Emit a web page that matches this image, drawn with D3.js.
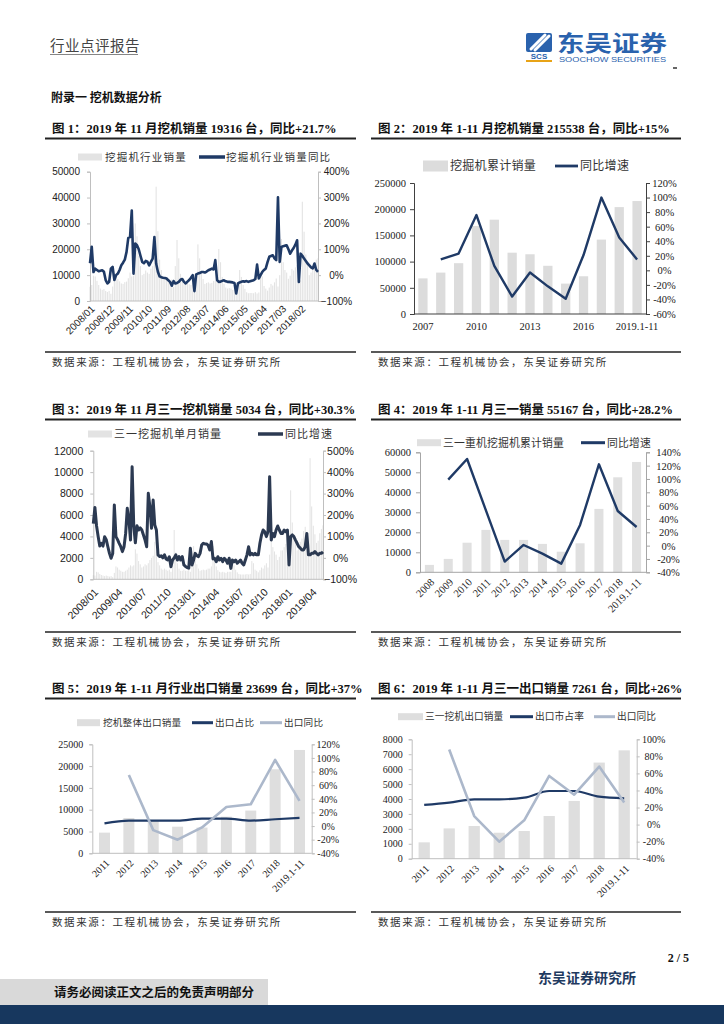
<!DOCTYPE html>
<html>
<head>
<meta charset="utf-8">
<script src="https://cdn.jsdelivr.net/npm/d3@7"></script>
<style>
body { margin: 0; background: #fff; }
svg { display: block; }
</style>
</head>
<body>
<svg id="page" width="724" height="1024"></svg>
<script>
// fonts
const SERIF = '"Liberation Serif", "Times New Roman", "Noto Sans CJK SC", serif';
const SANS = '"Liberation Sans", Arial, "Noto Sans CJK SC", sans-serif';
const CJK = '"Noto Sans CJK SC", sans-serif';

const navy = "#1f3a66";
const slate = "#2c3a52";
const lightLine = "#acb8cb";
const barGrey = "#dcdcdc";

// ---- chart 1: industry monthly sales 2008/01 - 2018/12
const chart1Ticks = ["2008/01", "2008/12", "2009/11", "2010/10", "2011/09", "2012/08", "2013/07", "2014/06", "2015/05", "2016/04", "2017/03", "2018/02"];
const industrySales = [
    5500, 6200, 9800, 9500, 7800, 6200, 4800, 4300, 4600, 3900, 3500, 3900,
    2800, 5600, 9500, 10000, 8500, 7600, 6800, 6600, 7300, 7500, 8800, 11000,
    9500, 9800, 30000, 25000, 17500, 13500, 10000, 10500, 11800, 11000, 10500, 12500,
    13500, 17000, 44200, 27000, 16000, 12000, 9000, 8500, 9200, 8200, 7600, 8300,
    5500, 13500, 23600, 16500, 10500, 8000, 6500, 6500, 7000, 6500, 6200, 7000,
    5300, 9500, 21900, 16500, 11000, 8500, 6600, 7000, 7200, 6800, 7000, 7800,
    7800, 9000, 20100, 15000, 9300, 6600, 5200, 4800, 5000, 4800, 4300, 4900,
    5600, 5200, 12000, 9300, 6200, 4700, 3400, 3000, 3100, 3100, 3000, 3400,
    2900, 3300, 10700, 9500, 5800, 4800, 4000, 5200, 6600, 6000, 7200, 8700,
    5600, 10000, 24000, 15000, 12000, 11000, 8600, 9800, 12400, 11800, 13000, 13900,
    10900, 8000, 38400, 26800, 18000, 14000, 10000, 11000, 13500, 14000, 16000, 16500
];
const industryYoy = [
    46, 110, 12, 25, 20, 15, 17, 19, 13, -19, -32, -26,
    25, 32, -19, 0, 6, 20, 38, 48, 60, 90, 144, 147,
    250, 6, 122, 116, 100, 75, 51, 46, 55, 52, 38, 51,
    64, 147, 45, 13, -5, -8, -10, -11, -13, -20, -26, -41,
    -23, -32, -30, -26, -18, -15, -26, -32, -25, -19, -10, 0,
    -62, 3, 6, 8, 12, 12, 10, 14, 19, 22, 25, 22,
    58, -19, -26, -25, -22, -20, -24, -26, -26, -27, -28, -30,
    -71, -32, -28, -26, -24, -25, -23, -26, -24, -22, -20, -15,
    41, -13, 0, 13, 20, 26, 50, 71, 74, 77, 65, 58,
    301, 51, 109, 112, 114, 115, 100, 83, 95, 105, 118, 135,
    -26, 83, 75, 64, 55, 45, 38, 30, 26, 45, 20, 13
];

// ---- chart 2: industry annual
const years2 = ["2007", "2008", "2009", "2010", "2011", "2012", "2013", "2014", "2015", "2016", "2017", "2018", "2019.1-11"];
const years2Ticks = ["2007", "2010", "2013", "2016", "2019.1-11"];
const annualSales = [68000, 79000, 97000, 168000, 180000, 117000, 114000, 92000, 58000, 72000, 142000, 204000, 215538];
const annualYoy = [null, 15, 23, 76, 6, -36, -3, -22, -39, 21, 100, 45, 15];

// ---- chart 3: Sany monthly sales 2008/01 - 2019/11
const chart3Ticks = ["2008/01", "2009/04", "2010/07", "2011/10", "2013/01", "2014/04", "2015/07", "2016/10", "2018/01", "2019/04"];
const sanySales = [
    400, 350, 700, 650, 500, 400, 350, 300, 350, 300, 250, 300,
    200, 600, 1200, 1100, 900, 800, 700, 700, 800, 900, 1100, 1300,
    1200, 1300, 2800, 2400, 1700, 1400, 1100, 1200, 1400, 1300, 1500, 1800,
    2000, 2200, 3500, 2600, 1600, 1300, 1000, 900, 1000, 900, 800, 900,
    700, 1800, 4600, 2500, 1500, 1000, 800, 800, 900, 800, 800, 900,
    700, 1400, 3100, 2200, 1400, 1000, 800, 850, 900, 850, 900, 1000,
    1000, 1200, 3100, 2000, 1200, 850, 700, 650, 700, 650, 600, 700,
    700, 700, 1600, 1300, 900, 650, 500, 450, 450, 450, 450, 500,
    450, 500, 1700, 1500, 900, 800, 650, 850, 1100, 1000, 1300, 1500,
    1100, 2300, 5500, 3000, 2600, 2300, 1800, 2100, 2700, 2700, 3000, 3300,
    2900, 2000, 8300, 5300, 4200, 3500, 2700, 2900, 3500, 3800, 4500, 4900,
    4200, 3400, 11300, 6800, 5000, 4200, 3400, 3600, 4300, 4700, 5034
];
const sanyYoy = [
    160, 235, 150, 100, 55, 68, 55, 99, 85, 52, 21, -2,
    20, 247, 99, 85, 68, 52, 29, 52, 114, 231, 177, 83,
    425, 150, 70, 150, 130, 140, 130, 107, 83, 52, 301, 239,
    138, 270, 153, 130, 14, 6, 10, 0, 14, -5, -10, 5,
    -41, -10, 0, 14, -10, 6, -10, 6, -33, -40, -45, -48,
    45, -33, -10, 21, 10, 6, 21, 60, 68, 65, 65, 58,
    37, 76, -5, -2, -18, 5, -10, -2, -18, -2, -10, -25,
    -2, -49, -10, -18, -10, -25, -18, -10, -25, -33, -10, 14,
    52, 14, 21, 14, 21, 14, 14, 68, 107, 130, 122, 99,
    122, 379, 83, 114, 99, 130, 149, 130, 114, 114, 130, 122,
    130, -33, 99, 107, 99, 83, 68, 52, 45, 37, 37, 52,
    114, 14, 14, 21, 21, 29, 21, 14, 21, 21, 28
];

// ---- chart 4: Sany annual
const years4 = ["2008", "2009", "2010", "2011", "2012", "2013", "2014", "2015", "2016", "2017", "2018", "2019.1-11"];
const sanyAnnual = [3700, 6700, 14800, 21200, 16200, 16200, 14200, 10300, 14500, 31700, 47500, 55167];
const sanyAnnualYoy = [null, 99, 130, 53, -24, 1, -12, -27, 31, 122, 52, 28];

// ---- chart 5 / 6: exports
const exportYears = ["2011", "2012", "2013", "2014", "2015", "2016", "2017", "2018", "2019.1-11"];
const exportSales = [4740, 8100, 7500, 6100, 5900, 8400, 9800, 19270, 23699];
const exportShare = [4, 8, 8, 8, 11, 11, 8, 10, 12];
const exportYoy = [null, 75, -6, -20, -2, 28, 32, 97, 37];
const sanyExport = [1095, 2030, 2190, 1740, 1855, 2860, 3870, 6440, 7261];
const sanyExportShare = [23, 25.7, 29.6, 29.6, 31.6, 39.4, 39.4, 32.7, 30.8];
const sanyExportYoy = [null, 88, 10, -20, 5, 57, 35, 68, 26];

const svg = d3.select("#page");

function monthLabels(startYear, count) {
    let out = [];
    for (let i = 0; i < count; i++) {
        let y = startYear + Math.floor(i / 12), m = i % 12 + 1;
        out.push(y + "/" + (m < 10 ? "0" + m : m));
    }
    return out;
}

function pct(minus) {
    return d => (d < 0 ? minus + Math.abs(d) : d) + "%";
}

// left value axis + right percent axis
function valueAxes(g, o, y, y2) {
    let left = g.append("g")
        .attr("transform", "translate(" + o.left + ",0)")
        .call(d3.axisLeft(y).tickValues(d3.range(0, o.leftMax + 1, o.leftStep))
            .tickSize(o.tick).tickPadding(o.padL).tickFormat(d => d));
    let right = g.append("g")
        .attr("transform", "translate(" + o.right + ",0)")
        .call(d3.axisRight(y2).tickValues(d3.range(o.rMin, o.rMax + 1, o.rStep))
            .tickSize(o.tick).tickFormat(pct(o.minus)));
    [left, right].forEach(a => {
        a.select(".domain").attr("stroke", o.axisColor);
        a.selectAll(".tick line").attr("stroke", o.axisColor);
        a.selectAll("text").attr("font-family", o.font).attr("font-size", o.fontSize).attr("fill", "#222");
    });
    right.selectAll("text").attr("text-anchor", "middle").attr("x", o.rLabelX);
    g.append("line")
        .attr("x1", o.left).attr("x2", o.right)
        .attr("y1", o.bottom).attr("y2", o.bottom)
        .attr("stroke", o.axisColor);
}

function rotatedLabel(g, x, y, text, font, size) {
    g.append("text")
        .attr("transform", "translate(" + x + "," + y + ") rotate(-45)")
        .attr("text-anchor", "end")
        .attr("dy", "0.35em")
        .attr("font-family", font)
        .attr("font-size", size)
        .attr("fill", "#222")
        .text(text);
}

function drawMonthly(o) {
    let g = svg.append("g");
    let x = d3.scalePoint().domain(o.months).range([o.left, o.right]);
    let y = d3.scaleLinear().domain([0, o.leftMax]).range([o.bottom, o.top]);
    let y2 = d3.scaleLinear().domain([o.rMin, o.rMax]).range([o.bottom, o.top]);
    let bw = x.step() * 0.62;

    g.selectAll("rect").data(o.bars).join("rect")
        .attr("x", (d, i) => x(o.months[i]) - bw / 2)
        .attr("y", d => y(d))
        .attr("width", bw)
        .attr("height", d => o.bottom - y(d))
        .attr("fill", o.barColor);

    valueAxes(g, o, y, y2);

    g.append("path")
        .datum(o.yoy)
        .attr("d", d3.line().x((d, i) => x(o.months[i])).y(d => y2(d)))
        .attr("fill", "none")
        .attr("stroke", o.lineColor)
        .attr("stroke-width", o.lineWidth)
        .attr("stroke-linejoin", "round");

    o.ticks.forEach(t => rotatedLabel(g, x(t) + 3, o.bottom + o.labelGap, t, SANS, o.fontSize));
}

function drawAnnual(o) {
    let g = svg.append("g");
    let x = d3.scaleBand().domain(o.cats).range([o.left, o.right]);
    let y = d3.scaleLinear().domain([0, o.leftMax]).range([o.bottom, o.top]);
    let y2 = d3.scaleLinear().domain([o.rMin, o.rMax]).range([o.bottom, o.top]);
    let bw = x.bandwidth() * o.barFrac;
    let cx = c => x(c) + x.bandwidth() / 2;

    g.selectAll("rect").data(o.bars).join("rect")
        .attr("x", (d, i) => cx(o.cats[i]) - bw / 2)
        .attr("y", d => y(d))
        .attr("width", bw)
        .attr("height", d => o.bottom - y(d))
        .attr("fill", o.barColor);

    valueAxes(g, o, y, y2);

    o.lines.forEach(l => {
        g.append("path")
            .datum(l.values)
            .attr("d", d3.line().defined(d => d != null)
                .curve(l.smooth ? d3.curveMonotoneX : d3.curveLinear)
                .x((d, i) => cx(o.cats[i])).y(d => y2(d)))
            .attr("fill", "none")
            .attr("stroke", l.color)
            .attr("stroke-width", l.width)
            .attr("stroke-linejoin", "round");
    });

    if (o.flatTicks) {
        o.flatTicks.forEach(t => g.append("text")
            .attr("x", cx(t)).attr("y", o.bottom + 16)
            .attr("text-anchor", "middle")
            .attr("font-family", SERIF).attr("font-size", o.fontSize).attr("fill", "#222")
            .text(t));
    } else {
        o.cats.forEach(t => rotatedLabel(g, cx(t) + 3, o.bottom + o.labelGap, t, SERIF, o.fontSize));
    }
}

// legend entries: {type: "bar"|"line", x, w, h, color, text, tx}
function legend(items, y, size, spacing) {
    items.forEach(it => {
        if (it.type === "bar") {
            svg.append("rect").attr("x", it.x).attr("y", y - it.h / 2)
                .attr("width", it.w).attr("height", it.h).attr("fill", it.color);
        } else {
            svg.append("line").attr("x1", it.x).attr("x2", it.x + it.w)
                .attr("y1", y).attr("y2", y)
                .attr("stroke", it.color).attr("stroke-width", it.h);
        }
        svg.append("text").attr("x", it.tx).attr("y", y).attr("dy", "0.36em")
            .attr("font-family", CJK).attr("font-size", size)
            .attr("letter-spacing", spacing).attr("fill", "#333")
            .text(it.text);
    });
}

function title(x, y, text, x1, x2) {
    svg.append("text").attr("x", x).attr("y", y)
        .attr("font-family", SERIF).attr("font-weight", "bold")
        .attr("font-size", 12.5).attr("fill", "#111")
        .text(text);
    svg.append("line").attr("x1", x1).attr("x2", x2)
        .attr("y1", y + 6).attr("y2", y + 6)
        .attr("stroke", "#222").attr("stroke-width", 2);
}

function source(x, y, x1, x2) {
    svg.append("line").attr("x1", x1).attr("x2", x2)
        .attr("y1", y - 14).attr("y2", y - 14)
        .attr("stroke", "#222").attr("stroke-width", 1.5);
    svg.append("text").attr("x", x).attr("y", y)
        .attr("font-family", CJK).attr("font-size", 10.5)
        .attr("letter-spacing", 1.6).attr("fill", "#333")
        .text("数据来源：工程机械协会，东吴证券研究所");
}

// ---------- header
svg.append("text").attr("x", 50).attr("y", 51)
    .attr("font-family", CJK).attr("font-size", 14.5).attr("fill", "#444")
    .attr("letter-spacing", 0.5)
    .text("行业点评报告");
svg.append("line").attr("x1", 50).attr("x2", 138).attr("y1", 54.5).attr("y2", 54.5)
    .attr("stroke", "#666").attr("stroke-width", 0.8);

// logo
let logo = svg.append("g");
logo.append("rect").attr("x", 526).attr("y", 33).attr("width", 26).attr("height", 19)
    .attr("rx", 2).attr("fill", "#2a62ad");
logo.append("path").attr("d", "M531,49 L545,35 M535,50 L549,36")
    .attr("stroke", "#fff").attr("stroke-width", 3).attr("stroke-linecap", "round");
logo.append("text").attr("x", 539).attr("y", 59).attr("text-anchor", "middle")
    .attr("font-family", SANS).attr("font-weight", "bold").attr("font-size", 8)
    .attr("fill", "#2a62ad").text("SCS");
logo.append("rect").attr("x", 526).attr("y", 60).attr("width", 26).attr("height", 2).attr("fill", "#e8a317");
logo.append("text").attr("x", 557).attr("y", 51)
    .attr("font-family", CJK).attr("font-weight", "bold").attr("font-size", 22)
    .attr("textLength", 110).attr("lengthAdjust", "spacingAndGlyphs")
    .attr("fill", "#2a62ad").text("东吴证券");
logo.append("text").attr("x", 559).attr("y", 62)
    .attr("font-family", SANS).attr("font-size", 8)
    .attr("textLength", 107).attr("lengthAdjust", "spacingAndGlyphs")
    .attr("fill", "#2a62ad").text("SOOCHOW SECURITIES");
svg.append("line").attr("x1", 673).attr("x2", 677).attr("y1", 68).attr("y2", 68)
    .attr("stroke", "#333").attr("stroke-width", 1.5);

svg.append("text").attr("x", 51).attr("y", 102)
    .attr("font-family", CJK).attr("font-weight", "bold").attr("font-size", 12).attr("fill", "#111")
    .text("附录一  挖机数据分析");

// ---------- titles and sources
title(52, 132.5, "图 1：2019 年 11 月挖机销量 19316 台，同比+21.7%", 45, 356);
title(378, 132.5, "图 2：2019 年 1-11 月挖机销量 215538 台，同比+15%", 371, 681);
title(52, 413.5, "图 3：2019 年 11 月三一挖机销量 5034 台，同比+30.3%", 45, 356);
title(378, 413.5, "图 4：2019 年 1-11 月三一销量 55167 台，同比+28.2%", 371, 681);
title(52, 692.5, "图 5：2019 年 1-11 月行业出口销量 23699 台，同比+37%", 45, 356);
title(378, 692.5, "图 6：2019 年 1-11 月三一出口销量 7261 台，同比+26%", 371, 681);

source(52, 366, 45, 356);
source(378, 366, 371, 681);
source(52, 646, 45, 356);
source(378, 646, 371, 681);
source(52, 926, 45, 356);
source(378, 926, 371, 681);

// ---------- chart 1
drawMonthly({
    months: monthLabels(2008, 132), bars: industrySales, yoy: industryYoy, ticks: chart1Ticks,
    left: 90, right: 318, top: 171.7, bottom: 301,
    leftMax: 50000, leftStep: 10000, rMin: -100, rMax: 400, rStep: 100,
    tick: 3, padL: 7, rLabelX: 18.5, minus: "\u2212",
    axisColor: "#bfbfbf", font: SANS, fontSize: 10, labelGap: 6,
    barColor: "#e3e3e3", lineColor: navy, lineWidth: 2.6
});
legend([
    {type: "bar", x: 78, w: 24, h: 7, color: "#e3e3e3", text: "挖掘机行业销量", tx: 105},
    {type: "line", x: 199, w: 26, h: 3.5, color: navy, text: "挖掘机行业销量同比", tx: 226}
], 157, 10.5, 1.2);

// ---------- chart 2
drawAnnual({
    cats: years2, bars: annualSales, flatTicks: years2Ticks,
    lines: [{values: annualYoy, color: navy, width: 2.4}],
    left: 414, right: 646, top: 183, bottom: 314,
    leftMax: 250000, leftStep: 50000, rMin: -60, rMax: 120, rStep: 20,
    tick: 4, padL: 4, rLabelX: 18.5, minus: "-",
    axisColor: "#404040", font: SERIF, fontSize: 10.5, barFrac: 0.52, barColor: barGrey
});
legend([
    {type: "bar", x: 423, w: 25, h: 11, color: barGrey, text: "挖掘机累计销量", tx: 450},
    {type: "line", x: 555, w: 23, h: 2.8, color: navy, text: "同比增速", tx: 580}
], 166, 12, 0.3);

// ---------- chart 3
drawMonthly({
    months: monthLabels(2008, 143), bars: sanySales, yoy: sanyYoy, ticks: chart3Ticks,
    left: 93.3, right: 323, top: 450.7, bottom: 579.3,
    leftMax: 12000, leftStep: 2000, rMin: -100, rMax: 500, rStep: 100,
    tick: 3, padL: 7, rLabelX: 17.5, minus: "\u2212",
    axisColor: "#bfbfbf", font: SANS, fontSize: 10.5, labelGap: 11,
    barColor: "#e3e3e3", lineColor: slate, lineWidth: 3
});
legend([
    {type: "bar", x: 88, w: 24, h: 7, color: "#e3e3e3", text: "三一挖掘机单月销量", tx: 114},
    {type: "line", x: 258, w: 25, h: 3.5, color: slate, text: "同比增速", tx: 285}
], 434, 11, 1);

// ---------- chart 4
drawAnnual({
    cats: years4, bars: sanyAnnual,
    lines: [{values: sanyAnnualYoy, color: navy, width: 2.4}],
    left: 420, right: 646, top: 452.3, bottom: 572.3,
    leftMax: 60000, leftStep: 10000, rMin: -40, rMax: 140, rStep: 20,
    tick: 4, padL: 5, rLabelX: 22.5, minus: "-",
    axisColor: "#a6a6a6", font: SERIF, fontSize: 10.5, labelGap: 8, barFrac: 0.48, barColor: "#e0e0e0"
});
legend([
    {type: "bar", x: 417, w: 24, h: 7, color: "#e0e0e0", text: "三一重机挖掘机累计销量", tx: 443},
    {type: "line", x: 581, w: 24, h: 3, color: navy, text: "同比增速", tx: 607}
], 442.7, 10.8, 0.2);

// ---------- chart 5
drawAnnual({
    cats: exportYears, bars: exportSales,
    lines: [
        {values: exportShare, color: navy, width: 2.2, smooth: true},
        {values: exportYoy, color: lightLine, width: 2.6}
    ],
    left: 92.3, right: 311.7, top: 744.3, bottom: 853.3,
    leftMax: 25000, leftStep: 5000, rMin: -40, rMax: 120, rStep: 20,
    tick: 3, padL: 6, rLabelX: 16.5, minus: "-",
    axisColor: "#bfbfbf", font: SERIF, fontSize: 10, labelGap: 8, barFrac: 0.45, barColor: "#dedede"
});
legend([
    {type: "bar", x: 77, w: 23, h: 7, color: "#dedede", text: "挖机整体出口销量", tx: 103},
    {type: "line", x: 192, w: 21, h: 3, color: navy, text: "出口占比", tx: 215},
    {type: "line", x: 260, w: 22, h: 3, color: lightLine, text: "出口同比", tx: 284}
], 722.7, 9.6, 0.2);

// ---------- chart 6
drawAnnual({
    cats: exportYears, bars: sanyExport,
    lines: [
        {values: sanyExportShare, color: navy, width: 2.2, smooth: true},
        {values: sanyExportYoy, color: lightLine, width: 2.6}
    ],
    left: 411.7, right: 636.7, top: 739.3, bottom: 858.7,
    leftMax: 8000, leftStep: 1000, rMin: -40, rMax: 100, rStep: 20,
    tick: 3, padL: 6, rLabelX: 17, minus: "-",
    axisColor: "#bfbfbf", font: SERIF, fontSize: 10, labelGap: 8, barFrac: 0.45, barColor: "#dedede"
});
legend([
    {type: "bar", x: 398, w: 25, h: 7, color: "#dedede", text: "三一挖机出口销量", tx: 425},
    {type: "line", x: 510, w: 23, h: 3, color: navy, text: "出口市占率", tx: 535},
    {type: "line", x: 594, w: 21, h: 3, color: lightLine, text: "出口同比", tx: 617}
], 716.7, 9.7, 0.1);

// ---------- footer
svg.append("text").attr("x", 689).attr("y", 962).attr("text-anchor", "end")
    .attr("font-family", SERIF).attr("font-weight", "bold").attr("font-size", 12).attr("fill", "#111")
    .text("2 / 5");
svg.append("text").attr("x", 538).attr("y", 983)
    .attr("font-family", CJK).attr("font-weight", "bold").attr("font-size", 14).attr("fill", "#1f3a5f")
    .text("东吴证券研究所");
svg.append("rect").attr("x", 0).attr("y", 979).attr("width", 268).attr("height", 27).attr("fill", "#d9d9d9");
svg.append("rect").attr("x", 0).attr("y", 1005).attr("width", 724).attr("height", 19).attr("fill", "#17375e");
svg.append("text").attr("x", 54).attr("y", 997)
    .attr("font-family", CJK).attr("font-weight", "bold").attr("font-size", 12.5).attr("fill", "#111")
    .text("请务必阅读正文之后的免责声明部分");
</script>
</body>
</html>
